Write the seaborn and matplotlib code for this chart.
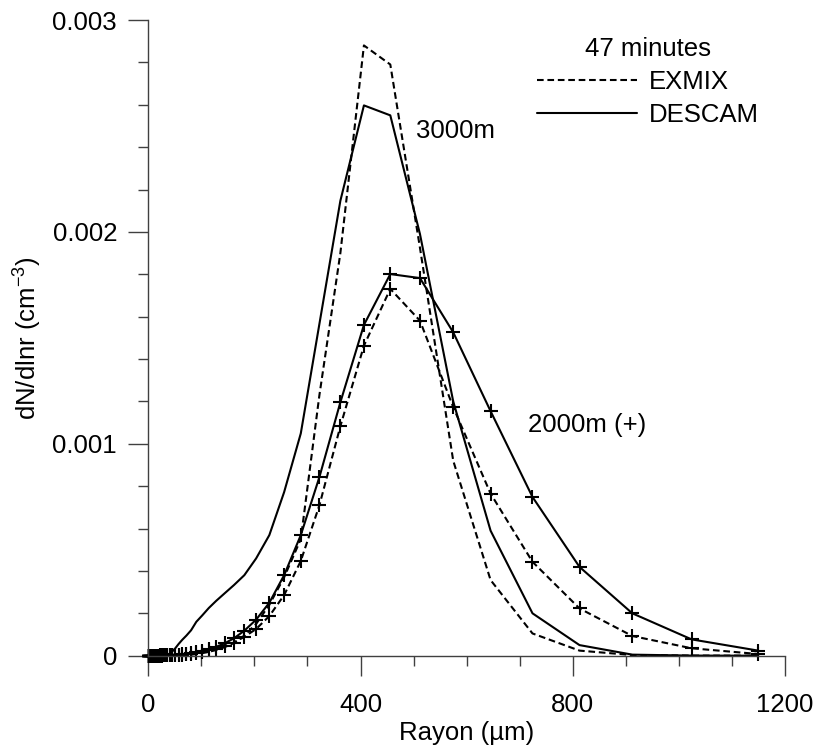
import matplotlib
matplotlib.use("Agg")
import matplotlib.pyplot as plt
from matplotlib.ticker import MultipleLocator, FuncFormatter
import numpy as np
import pandas as pd
import seaborn as sns

# Bin radii (µm)
radius_um = [1.00, 1.12, 1.26, 1.41, 1.59, 1.78, 2.00, 2.24, 2.52, 2.83,
             3.17, 3.56, 4.00, 4.49, 5.04, 5.66, 6.35, 7.13, 8.00, 8.98,
             10.08, 11.31, 12.70, 14.25, 16.00, 17.96, 20.16, 22.63, 25.40, 28.51,
             32.00, 35.92, 40.32, 45.25, 50.80, 57.02, 64.00, 71.84, 80.63, 90.51,
             101.6, 114.0, 128.0, 143.7, 161.3, 181.0, 203.2, 228.1, 256.0, 287.4,
             322.5, 362.0, 406.4, 456.1, 512.0, 574.7, 645.1, 724.1, 812.7, 912.2,
             1024.0, 1149.4]

# dN/dlnr in units of 1e-3 cm^-3
descam_3000 = [0, 0, 0, 0, 0, 0, 0, 0, 0, 0,
               0, 0, 0, 0, 0, 0, 0, 0, 0, 0,
               0, 0, 0, 0, 0, 0, 0, 0, 0, 0,
               0.002, 0.005, 0.010, 0.020, 0.035, 0.055, 0.075, 0.095, 0.120, 0.160,
               0.190, 0.225, 0.259, 0.294, 0.333, 0.380, 0.459, 0.569, 0.772, 1.049,
               1.566, 2.147, 2.597, 2.550, 1.990, 1.200, 0.590, 0.200, 0.050, 0.005,
               0.0005, 0.0]

exmix_3000 = [0, 0, 0, 0, 0, 0, 0, 0, 0, 0,
              0, 0, 0, 0, 0, 0, 0, 0, 0, 0,
              0, 0, 0, 0, 0, 0, 0, 0, 0, 0,
              0, 0, 0, 0, 0.0005, 0.001, 0.002, 0.003, 0.005, 0.008,
              0.012, 0.018, 0.027, 0.040, 0.060, 0.095, 0.150, 0.240, 0.370, 0.550,
              1.230, 1.900, 2.880, 2.790, 1.925, 0.920, 0.357, 0.105, 0.024, 0.003,
              0.0005, 0.0]

descam_2000 = [0, 0, 0, 0, 0, 0, 0, 0, 0, 0,
               0, 0, 0, 0, 0, 0, 0, 0, 0, 0,
               0, 0, 0, 0.0005, 0.0005, 0.0007, 0.0008, 0.001, 0.001, 0.0012,
               0.0015, 0.002, 0.0025, 0.0032, 0.004, 0.005, 0.007, 0.010, 0.014, 0.018,
               0.024, 0.032, 0.042, 0.058, 0.082, 0.118, 0.170, 0.250, 0.380, 0.569,
               0.843, 1.196, 1.561, 1.801, 1.782, 1.526, 1.154, 0.749, 0.419, 0.200,
               0.077, 0.024]

exmix_2000 = [0, 0, 0, 0, 0, 0, 0, 0, 0, 0,
              0, 0, 0, 0, 0, 0, 0, 0, 0, 0,
              0, 0, 0, 0.0003, 0.0004, 0.0005, 0.0006, 0.0007, 0.0008, 0.001,
              0.0012, 0.0015, 0.002, 0.0025, 0.003, 0.004, 0.0055, 0.0075, 0.010, 0.014,
              0.019, 0.025, 0.033, 0.045, 0.062, 0.089, 0.126, 0.187, 0.286, 0.447,
              0.710, 1.083, 1.463, 1.731, 1.581, 1.173, 0.765, 0.443, 0.223, 0.093,
              0.035, 0.008]

df = pd.DataFrame({
    "radius": radius_um,
    "descam_3000": np.array(descam_3000) * 1e-3,
    "exmix_3000": np.array(exmix_3000) * 1e-3,
    "descam_2000": np.array(descam_2000) * 1e-3,
    "exmix_2000": np.array(exmix_2000) * 1e-3,
})

sns.set_theme(style="ticks")
plt.rcParams["font.family"] = ["Liberation Sans", "DejaVu Sans"]
plt.rcParams["mathtext.default"] = "regular"
plt.rcParams["text.color"] = "black"
plt.rcParams["axes.labelcolor"] = "black"

FS = 18.5
W, H = 819, 748
fig = plt.figure(figsize=(W / 100, H / 100), dpi=100)
x0, x1 = 148.3, 785.0
yb, yt = 655.7, 20.0
ax = fig.add_axes([x0 / W, (H - yb) / H, (x1 - x0) / W, (yb - yt) / H])

dash = (0, (3.2, 1.8))
common = dict(ax=ax, color="black", lw=1.5, estimator=None, sort=False)

sns.lineplot(data=df, x="radius", y="exmix_3000", linestyle=dash,
             label="EXMIX", **common)
sns.lineplot(data=df, x="radius", y="descam_3000", linestyle="-",
             label="DESCAM", **common)
sns.lineplot(data=df, x="radius", y="exmix_2000", linestyle=dash,
             marker="+", markersize=10, markeredgewidth=1.5,
             markeredgecolor="black", clip_on=False, **common)
sns.lineplot(data=df, x="radius", y="descam_2000", linestyle="-",
             marker="+", markersize=10, markeredgewidth=1.5,
             markeredgecolor="black", clip_on=False, **common)

ax.set_xlim(0, 1200)
ax.set_ylim(0, 0.003)
ax.xaxis.set_major_locator(MultipleLocator(400))
ax.xaxis.set_minor_locator(MultipleLocator(100))
ax.yaxis.set_major_locator(MultipleLocator(0.001))
ax.yaxis.set_minor_locator(MultipleLocator(0.0002))
ax.yaxis.set_major_formatter(FuncFormatter(lambda v, _: "0" if abs(v) < 1e-12 else f"{v:.3f}"))

for s in ["top", "right"]:
    ax.spines[s].set_visible(False)
for s in ["left", "bottom"]:
    ax.spines[s].set_color("#404040")
    ax.spines[s].set_linewidth(1.0)

ax.tick_params(which="major", direction="out", length=14.5, width=1.0,
               color="#404040", labelsize=FS, labelcolor="black")
ax.tick_params(axis="x", which="major", pad=12.5)
ax.tick_params(axis="y", which="major", pad=8)
ax.tick_params(which="minor", direction="out", length=7.5, width=1.0, color="#404040")

ax.set_xlabel("Rayon (µm)", fontsize=FS, labelpad=3, color="black")
ax.set_ylabel("dN/dlnr (cm$^{-3}$)", fontsize=FS, labelpad=6, color="black")

ax.text(505, 0.002476, "3000m", fontsize=FS, ha="left", va="center", color="black")
ax.text(716, 0.001087, "2000m (+)", fontsize=FS, ha="left", va="center", color="black")

handles, labels = ax.get_legend_handles_labels()
leg = ax.legend(handles[:2], labels[:2], title="47 minutes", fontsize=FS,
                title_fontsize=FS, frameon=False, handlelength=3.9,
                handletextpad=0.45, labelspacing=0.35, borderpad=0,
                borderaxespad=0, loc="upper left",
                bbox_to_anchor=(537 / W, 1 - 37 / H),
                bbox_transform=fig.transFigure, labelcolor="black")
leg.get_title().set_color("black")

fig.savefig("out.png", dpi=100)
